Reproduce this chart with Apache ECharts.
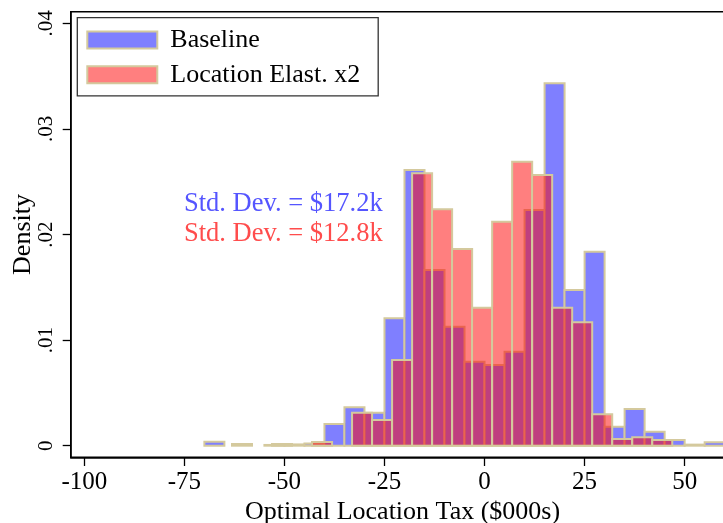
<!DOCTYPE html>
<html>
<head>
<meta charset="utf-8">
<script src="https://cdn.jsdelivr.net/npm/echarts@6/dist/echarts.min.js"></script>
<style>
html,body{margin:0;padding:0;background:#fff;}
#chart{width:723px;height:523px;}
</style>
</head>
<body>
<div id="chart"></div>
<script>
// ---- data ----
const binWidth = 5;
const blueEdges = [-70, -55, -50, -45, -40, -35, -30, -25, -20, -15, -10, -5, 0, 5, 10, 15, 20, 25, 30, 35, 40, 45, 50, 55];
const blueDensity = [0.00038, 0.00007, 0.00012, 0.0002, 0.00205, 0.00364, 0.00313, 0.01206, 0.02611, 0.01664, 0.01127, 0.00796, 0.00764, 0.0089, 0.02232, 0.03432, 0.01474, 0.01837, 0.0018, 0.00348, 0.00133, 0.00054, 0.0001, 0.00032];
const redEdges = [-63.1, -53.1, -43.1, -33.1, -28.1, -23.1, -18.1, -13.1, -8.1, -3.1, 1.9, 6.9, 11.9, 16.9, 21.9, 26.9, 31.9, 36.9, 41.9];
const redDensity = [0.00016, 0.00016, 0.00036, 0.00313, 0.00243, 0.00812, 0.0258, 0.02238, 0.01863, 0.01307, 0.02121, 0.0269, 0.02563, 0.01307, 0.01168, 0.00297, 0.00063, 0.0008, 0.00054];
const xTicks = [-100, -75, -50, -25, 0, 25, 50];
const yTicks = [0, 0.01, 0.02, 0.03, 0.04];
const seriesNames = ['Baseline', 'Location Elast. x2'];
const sdLabels = ['Std. Dev. = $17.2k', 'Std. Dev. = $12.8k'];

const FONT = '"Liberation Serif", "Times New Roman", serif';
const OUTLINE = '#d4c99d';
const BLUE = 'rgba(0,0,255,0.5)';
const RED = 'rgba(255,0,0,0.5)';

function toBins(edges, dens) {
  return edges.map((e, i) => [e, e + binWidth, dens[i]]);
}

function makeRender(fill) {
  return function (params, api) {
    const x0 = api.value(0), x1 = api.value(1), h = api.value(2);
    const p0 = api.coord([x0, h]);
    const p1 = api.coord([x1, 0]);
    return {
      type: 'rect',
      shape: { x: p0[0], y: p0[1], width: p1[0] - p0[0], height: p1[1] - p0[1] },
      style: { fill: fill, stroke: OUTLINE, lineWidth: 2 }
    };
  };
}

const chart = echarts.init(document.getElementById('chart'), null, { renderer: 'canvas' });
chart.setOption({
  animation: false,
  backgroundColor: '#fff',
  textStyle: { fontFamily: FONT },
  grid: {
    left: 70.7, right: -11.4, top: 11.7, bottom: 65.7,
    containLabel: false,
    outerBoundsMode: 'none',
    show: true, borderColor: '#000', borderWidth: 1.4, backgroundColor: 'transparent'
  },
  legend: {
    left: 77.3, top: 17.7,
    orient: 'vertical',
    padding: [9.3, 18, 8, 9],
    itemGap: 8.8,
    itemWidth: 70, itemHeight: 17,
    borderColor: '#333', borderWidth: 1.3,
    backgroundColor: '#fff',
    textStyle: { fontFamily: FONT, fontSize: 26, color: '#000', padding: [0, 0, 0, 8] },
    data: [
      { name: seriesNames[0], icon: 'rect', itemStyle: { color: BLUE, borderColor: OUTLINE, borderWidth: 2 } },
      { name: seriesNames[1], icon: 'rect', itemStyle: { color: RED, borderColor: OUTLINE, borderWidth: 2 } }
    ]
  },
  xAxis: {
    type: 'value',
    min: -103.4, max: 62.43,
    name: 'Optimal Location Tax ($000s)',
    nameLocation: 'middle',
    nameGap: 41.5,
    nameMoveOverlap: false,
    nameTextStyle: { fontFamily: FONT, fontSize: 26, color: '#000' },
    axisLine: { show: true, onZero: false, lineStyle: { color: '#000', width: 1.5 } },
    axisTick: { show: true, customValues: xTicks, length: 8.7, lineStyle: { color: '#000', width: 1.3 } },
    axisLabel: { show: true, customValues: xTicks, margin: 13, fontFamily: FONT, fontSize: 25, color: '#000',
      formatter: v => String(v) },
    splitLine: { show: false }
  },
  yAxis: {
    type: 'value',
    min: -0.0011, max: 0.0411,
    name: 'Density',
    nameLocation: 'middle',
    nameGap: 35,
    nameMoveOverlap: false,
    nameTextStyle: { fontFamily: FONT, fontSize: 26, color: '#000' },
    axisLine: { show: true, onZero: false, lineStyle: { color: '#000', width: 1.5 } },
    axisTick: { show: true, customValues: yTicks, length: 8, lineStyle: { color: '#000', width: 1.3 } },
    axisLabel: { show: true, customValues: yTicks, rotate: 90, margin: 14, fontFamily: FONT, fontSize: 21, color: '#000',
      formatter: v => (v === 0 ? '0' : String(Math.round(v * 100) / 100).replace(/^0/, '')) },
    splitLine: { show: false }
  },
  graphic: [
    { type: 'text', x: 184, y: 204, z: 10,
      style: { text: sdLabels[0], fill: '#5555ff', font: '26.5px ' + FONT, align: 'left', verticalAlign: 'middle' } },
    { type: 'text', x: 184, y: 234, z: 10,
      style: { text: sdLabels[1], fill: '#ff4c4c', font: '26.5px ' + FONT, align: 'left', verticalAlign: 'middle' } }
  ],
  series: [
    {
      name: seriesNames[0], type: 'custom', renderItem: makeRender(BLUE),
      itemStyle: { color: BLUE, borderColor: OUTLINE, borderWidth: 2 },
      encode: { x: [0, 1], y: 2 },
      data: toBins(blueEdges, blueDensity), z: 2
    },
    {
      name: seriesNames[1], type: 'custom', renderItem: makeRender(RED),
      itemStyle: { color: RED, borderColor: OUTLINE, borderWidth: 2 },
      encode: { x: [0, 1], y: 2 },
      data: toBins(redEdges, redDensity), z: 3
    }
  ]
});
</script>
</body>
</html>
